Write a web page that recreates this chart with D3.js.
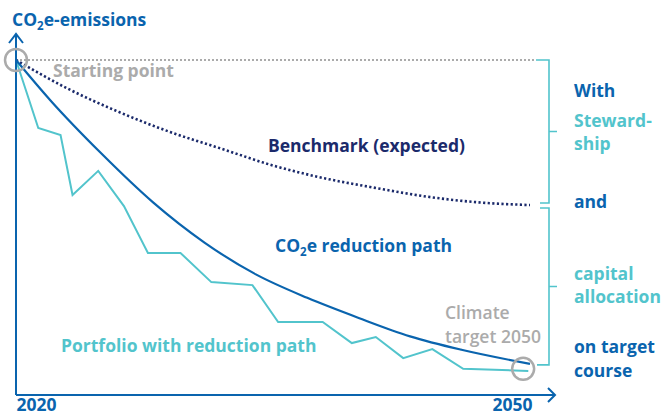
<!DOCTYPE html>
<html>
<head>
<meta charset="utf-8">
<script src="https://cdn.jsdelivr.net/npm/d3@7"></script>
<style>
  body { margin: 0; background: #fff; }
  text { font-family: "Open Sans", "Noto Sans", sans-serif; }
</style>
</head>
<body>
<div id="chart"></div>
<script>
// data (index: 100 = starting point)
const path_years = [2020, 2022, 2025, 2028, 2031, 2034, 2037, 2040, 2043, 2046, 2050];
const path_values = [100, 88, 72, 57.5, 45.5, 36, 29, 23, 17.5, 13.5, 9.3];

const bench_years = [2020, 2023, 2026, 2029, 2032, 2035, 2038, 2041, 2044, 2047, 2050];
const bench_values = [100, 91.5, 84.5, 78.5, 73.5, 68.5, 64.7, 61.8, 59.2, 57.5, 56.7];

const port_years = [2020, 2021.3, 2022.6, 2023.3, 2024.8, 2026.3, 2027.7, 2029.6, 2031.4, 2033.8, 2035.3, 2037.9, 2039.6, 2041.0, 2042.6, 2044.3, 2046.1, 2049.9];
const port_values = [100, 79.7, 77.6, 59.7, 66.9, 56.4, 42.4, 42.4, 33.7, 32.8, 21.8, 21.8, 15.5, 17.3, 11.0, 13.7, 7.8, 7.2];

const x_ticks = [2020, 2050];

// colours
const blue = "#0a64ae";
const navy = "#1b2a6b";
const cyan = "#52c4cc";
const grey = "#ababab";

const W = 661, H = 416;
const fs = "17.5px";
const svg = d3.select("#chart").append("svg")
    .attr("width", W)
    .attr("height", H);

const x = d3.scaleLinear().domain([2020, 2050]).range([16, 530]);
const y = d3.scaleLinear().domain([0, 100]).range([395, 60]);

const zip = (xs, ys) => xs.map((d, i) => [d, ys[i]]);
const line = d3.line().x(d => x(d[0])).y(d => y(d[1]));

// starting level (dotted grey)
svg.append("line")
    .attr("x1", x(2020)).attr("x2", x(2050) + 4)
    .attr("y1", y(100)).attr("y2", y(100))
    .attr("stroke", grey).attr("stroke-width", 2)
    .attr("stroke-dasharray", "2,2");

// portfolio
svg.append("path")
    .datum(zip(port_years, port_values))
    .attr("d", line)
    .attr("fill", "none").attr("stroke", cyan).attr("stroke-width", 2);

// benchmark
svg.append("path")
    .datum(zip(bench_years, bench_values))
    .attr("d", line.curve(d3.curveMonotoneX))
    .attr("fill", "none").attr("stroke", navy).attr("stroke-width", 2.6)
    .attr("stroke-dasharray", "2.2,2.4");

// CO2e reduction path
svg.append("path")
    .datum(zip(path_years, path_values))
    .attr("d", line.curve(d3.curveMonotoneX))
    .attr("fill", "none").attr("stroke", blue).attr("stroke-width", 2.2);

// axes
const xAxis = svg.append("g")
    .attr("transform", "translate(0," + y(0) + ")")
    .call(d3.axisBottom(x).tickValues(x_ticks).tickSize(0).tickSizeOuter(0).tickFormat(d3.format("d")));
xAxis.select(".domain").remove();
xAxis.selectAll("text")
    .attr("y", 4)
    .attr("text-anchor", (d, i) => i === 0 ? "start" : "end")
    .attr("dx", (d, i) => i === 0 ? 0 : 2)
    .style("font-size", fs).style("font-weight", "bold")
    .attr("fill", blue);

const x0 = x(2020), y0 = y(0);
const ax_end = x(2050) + 25, ay_end = y(100) - 26;
svg.append("path")
    .attr("d", "M" + x0 + "," + y0 + "H" + ax_end + "M" + x0 + "," + y0 + "V" + ay_end)
    .attr("stroke", blue).attr("stroke-width", 2).attr("fill", "none");
svg.append("path")
    .attr("d", "M" + (ax_end - 7) + "," + (y0 - 7) + "L" + ax_end + "," + y0 + "L" + (ax_end - 7) + "," + (y0 + 7) +
               "M" + (x0 - 7) + "," + (ay_end + 9) + "L" + x0 + "," + ay_end + "L" + (x0 + 7) + "," + (ay_end + 9))
    .attr("stroke", blue).attr("stroke-width", 2).attr("fill", "none");

// circles
svg.append("circle").attr("cx", x(2020)).attr("cy", y(100)).attr("r", 11)
    .attr("fill", "none").attr("stroke", grey).attr("stroke-width", 2.5);
svg.append("circle").attr("cx", x(2049.6)).attr("cy", y(7.8)).attr("r", 11)
    .attr("fill", "none").attr("stroke", grey).attr("stroke-width", 2.5);

// brackets
const bx = x(2050) + 19;
const b1 = [y(100), y(bench_values[bench_values.length - 1]) - 2];
const b2 = [y(bench_values[bench_values.length - 1]) + 3, y(path_values[path_values.length - 1]) + 1];
function bracket(top, bot, l1, l2) {
    const mid = (top + bot) / 2;
    svg.append("path")
        .attr("d", "M" + (bx - l1) + "," + top + "H" + bx + "V" + bot + "H" + (bx - l2) +
                   "M" + bx + "," + mid + "H" + (bx + 8))
        .attr("stroke", cyan).attr("stroke-width", 1.6).attr("fill", "none");
}
bracket(b1[0], b1[1], 13, 9);
bracket(b2[0], b2[1], 9, 12);

// labels
function label(txt, lx, ly, color, weight) {
    return svg.append("text").attr("x", lx).attr("y", ly)
        .attr("fill", color)
        .style("font-size", fs)
        .style("font-weight", weight || "bold")
        .text(txt);
}
function co2Label(rest, lx, ly, color) {
    const t = svg.append("text").attr("x", lx).attr("y", ly).attr("fill", color)
        .style("font-size", fs).style("font-weight", "bold");
    t.append("tspan").text("CO");
    t.append("tspan").attr("dy", 4).style("font-size", "11.5px").text("2");
    t.append("tspan").attr("dy", -4).text(rest);
    return t;
}
co2Label("e-emissions", 12, 26, blue);
label("Starting point", 53, 77, grey);
label("Benchmark (expected)", 268, 152, navy);
co2Label("e reduction path", 275, 252, blue);
label("Portfolio with reduction path", 61, 352, cyan);
label("Climate", 445, 319, grey, 600);
label("target 2050", 445, 343, grey, 600);

const side = [
    ["With", 97, blue], ["Steward-", 127, cyan], ["ship", 150, cyan],
    ["and", 208, blue], ["capital", 280, cyan], ["allocation", 303, cyan],
    ["on target", 353, blue], ["course", 377, blue]
];
side.forEach(d => label(d[0], 574, d[1], d[2]));
</script>
</body>
</html>
